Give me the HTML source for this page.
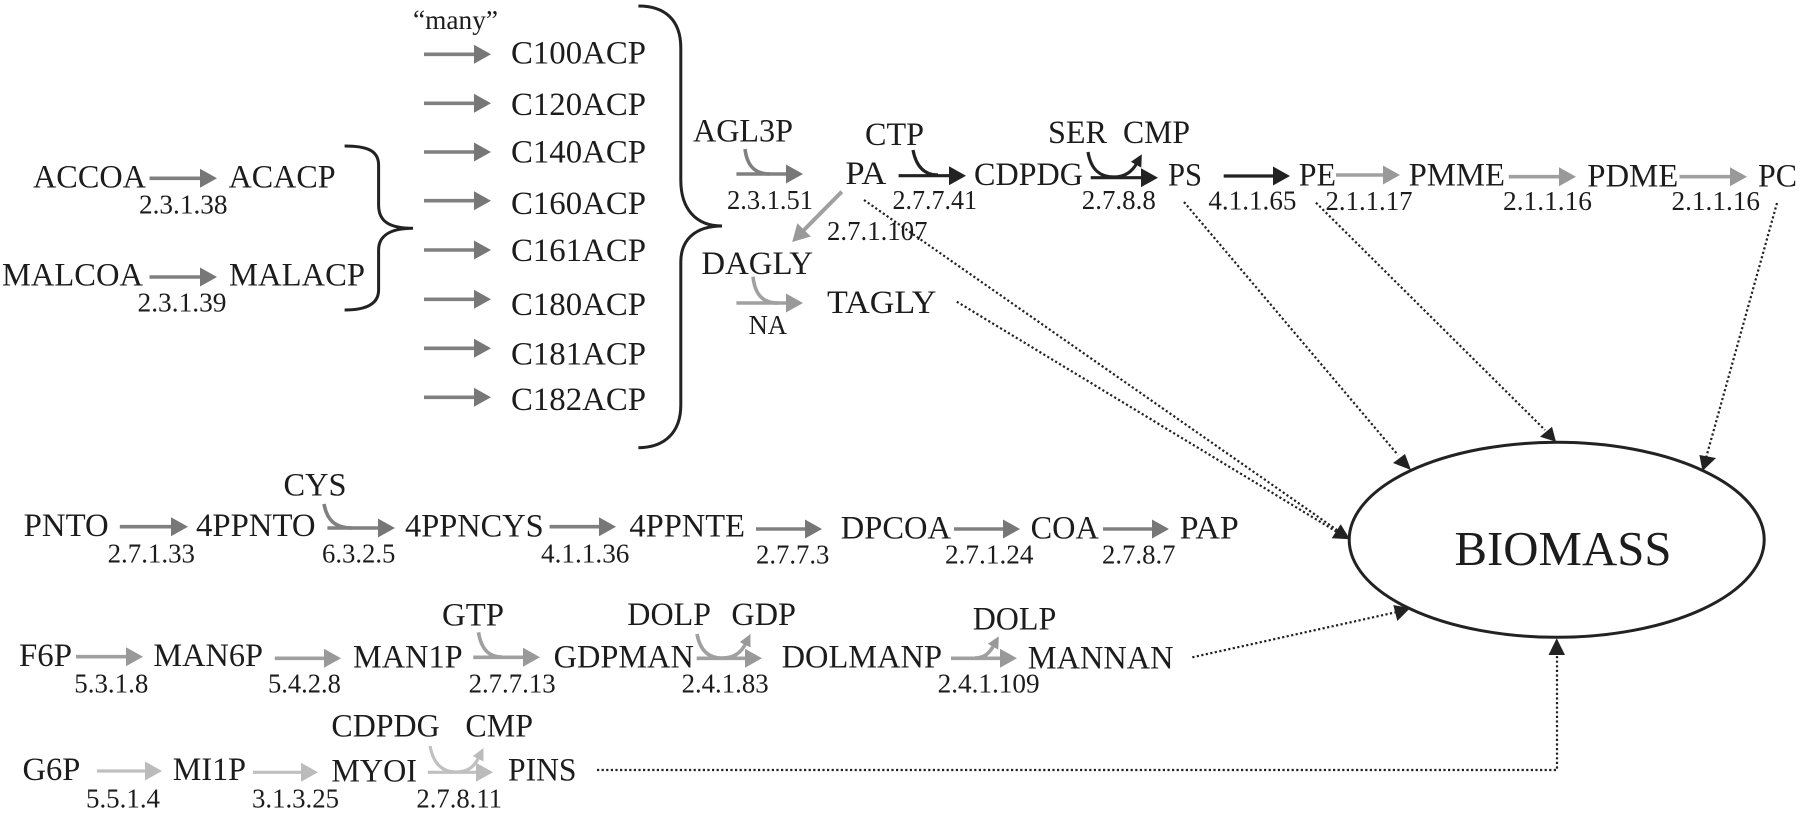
<!DOCTYPE html>
<html><head><meta charset="utf-8">
<style>
html,body{margin:0;padding:0;background:#fff;width:1800px;height:813px;overflow:hidden}
svg{display:block;filter:blur(.35px)}
text{font-family:"Liberation Serif",serif;fill:#1c1c1c}
.l{font-size:32.5px}
.e{font-size:27.5px}
.d,.a,.b,.c,.k,.br{fill:none}
.d{stroke:#222;stroke-width:2.2;stroke-dasharray:2.2 2.4}
.k{stroke:#222;stroke-width:3.2}
.a{stroke:#808080;stroke-width:3.6}
.b{stroke:#a0a0a0;stroke-width:3.6}
.c{stroke:#c0c0c0;stroke-width:3.2}
.br{stroke:#222;stroke-width:3}
</style></head><body>
<svg xmlns="http://www.w3.org/2000/svg" width="1800" height="813" viewBox="0 0 1800 813">
<defs>
<marker id="mk" markerUnits="userSpaceOnUse" markerWidth="18" markerHeight="20" refX="3" refY="10" orient="auto"><path d="M0 0.5L17 10L0 19.5Z" fill="#222"/></marker>
<marker id="ma" markerUnits="userSpaceOnUse" markerWidth="18" markerHeight="20" refX="3" refY="10" orient="auto"><path d="M0 0.5L17 10L0 19.5Z" fill="#777"/></marker>
<marker id="mb" markerUnits="userSpaceOnUse" markerWidth="18" markerHeight="20" refX="3" refY="10" orient="auto"><path d="M0 0.5L17 10L0 19.5Z" fill="#999"/></marker>
<marker id="mc" markerUnits="userSpaceOnUse" markerWidth="18" markerHeight="20" refX="3" refY="10" orient="auto"><path d="M0 0.5L17 10L0 19.5Z" fill="#bbb"/></marker>
<marker id="sk" markerUnits="userSpaceOnUse" markerWidth="14" markerHeight="14" refX="2" refY="7" orient="auto"><path d="M0 1L12 7L0 13Z" fill="#222"/></marker>
<marker id="sb" markerUnits="userSpaceOnUse" markerWidth="14" markerHeight="14" refX="2" refY="7" orient="auto"><path d="M0 1L12 7L0 13Z" fill="#999"/></marker>
<marker id="sc" markerUnits="userSpaceOnUse" markerWidth="14" markerHeight="14" refX="2" refY="7" orient="auto"><path d="M0 1L12 7L0 13Z" fill="#bbb"/></marker>
</defs>

<!-- braces -->
<path class="br" d="M344.6 146C366 146 378.6 150 378.6 165V205C378.6 222 390 228.3 413 228.3C390 228.3 378.6 236 378.6 250V290C378.6 304 366 310 344.6 310"/>
<path class="br" d="M638.4 6C665 6 680.8 20 680.8 48V180C680.8 208 695 226 722 226C695 226 680.8 240 680.8 262V405C680.8 432 665 447.7 638.4 447.7"/>

<!-- ACP arrows -->
<path class="a" d="M424 54.3H477" marker-end="url(#ma)"/>
<path class="a" d="M424 103.3H477" marker-end="url(#ma)"/>
<path class="a" d="M424 152H477" marker-end="url(#ma)"/>
<path class="a" d="M424 200.7H477" marker-end="url(#ma)"/>
<path class="a" d="M424 250H477" marker-end="url(#ma)"/>
<path class="a" d="M424 299.3H477" marker-end="url(#ma)"/>
<path class="a" d="M424 348.3H477" marker-end="url(#ma)"/>
<path class="a" d="M424 397.3H477" marker-end="url(#ma)"/>
<path class="a" d="M149.5 178.3H203" marker-end="url(#ma)"/>
<path class="a" d="M149.5 277H203" marker-end="url(#ma)"/>

<!-- lipid arrows -->
<path class="a" d="M736.4 174H789" marker-end="url(#ma)"/>
<path class="a" d="M745 149C747 166 755 174 770 174"/>
<path class="k" d="M898.6 175.7H952" marker-end="url(#mk)"/>
<path class="k" d="M913 150C916 166 924 175 938 175"/>
<path class="k" d="M1090.7 177.7H1144" marker-end="url(#mk)"/>
<path class="k" d="M1088 152C1091 170 1100 177 1114 177C1125 177 1132 172 1137 163" marker-end="url(#sk)"/>
<path class="k" d="M1223.7 176H1276" marker-end="url(#mk)"/>
<path class="b" d="M1336 175H1386" marker-end="url(#mb)"/>
<path class="b" d="M1508.8 176.7H1562" marker-end="url(#mb)"/>
<path class="b" d="M1679.5 176.7H1733" marker-end="url(#mb)"/>
<path class="b" d="M841.8 191.7L802 232" marker-end="url(#mb)" style="stroke-width:4"/>
<path class="b" d="M736.4 303H789" marker-end="url(#mb)"/>
<path class="b" d="M753 276.7C755 294 762 303 778 303"/>

<!-- row 2 -->
<path class="a" d="M119.8 526.7H174" marker-end="url(#ma)"/>
<path class="a" d="M327.4 528H381" marker-end="url(#ma)"/>
<path class="a" d="M324 504C327 520 335 528 352 528"/>
<path class="a" d="M549.6 526.7H602" marker-end="url(#ma)"/>
<path class="a" d="M756 529H808" marker-end="url(#ma)"/>
<path class="a" d="M954 529H1006" marker-end="url(#ma)"/>
<path class="a" d="M1103 529H1155" marker-end="url(#ma)"/>

<!-- row 3 -->
<path class="b" d="M76 656.7H129" marker-end="url(#mb)"/>
<path class="b" d="M274.8 658.3H327" marker-end="url(#mb)"/>
<path class="b" d="M473.3 657.3H526" marker-end="url(#mb)"/>
<path class="b" d="M478.5 632.3C481 648 488 657 502 657"/>
<path class="b" d="M696.7 658.3H748" marker-end="url(#mb)"/>
<path class="b" d="M697 634C700 650 708 658 722 658C734 658 741 653 746 643" marker-end="url(#sb)"/>
<path class="b" d="M951 658.3H1003" marker-end="url(#mb)"/>
<path class="b" d="M975 658C984 658 989 654 994 645" marker-end="url(#sb)"/>

<!-- row 4 -->
<path class="c" d="M96.9 771H148" marker-end="url(#mc)"/>
<path class="c" d="M253 772.3H304" marker-end="url(#mc)"/>
<path class="c" d="M427.8 772.3H479" marker-end="url(#mc)"/>
<path class="c" d="M430 746C433 762 441 772 456 772C468 772 474 767 479 757" marker-end="url(#sc)"/>

<!-- dotted -->
<path class="d" d="M864 200L1337 530"/>
<path class="d" d="M956.8 301.7L1337 532"/>
<path class="d" d="M1184 202L1398 455"/>
<path class="d" d="M1316 202.7L1545 430"/>
<path class="d" d="M1777 203L1706 458"/>
<path class="d" d="M1192.3 657.3L1397 612"/>
<path class="d" d="M597 770H1557V654"/>
<polygon points="1350,539.3 1331.7,538.3 1340.7,524.3" fill="#222"/>
<polygon points="1411,470 1393,463 1405,454" fill="#222"/>
<polygon points="1556,441.7 1540,436.7 1552,426.7" fill="#222"/>
<polygon points="1702.5,471 1699.4,455 1716,458" fill="#222"/>
<polygon points="1410,608.3 1393.3,605 1397.3,621" fill="#222"/>
<polygon points="1556.7,638.3 1548.5,655 1565,655" fill="#222"/>

<ellipse cx="1556.7" cy="539.8" rx="207.5" ry="97.5" fill="none" stroke="#222" stroke-width="3"/>
<text x="1454.5" y="565" font-size="48.8" textLength="217" lengthAdjust="spacingAndGlyphs">BIOMASS</text>

<!-- labels -->
<text class="e" x="413" y="29" textLength="85" lengthAdjust="spacingAndGlyphs">“many”</text>
<text class="l" x="511" y="63.3" textLength="135" lengthAdjust="spacingAndGlyphs">C100ACP</text>
<text class="l" x="511" y="115" textLength="135" lengthAdjust="spacingAndGlyphs">C120ACP</text>
<text class="l" x="511" y="162.3" textLength="135" lengthAdjust="spacingAndGlyphs">C140ACP</text>
<text class="l" x="511" y="214" textLength="135" lengthAdjust="spacingAndGlyphs">C160ACP</text>
<text class="l" x="511" y="261" textLength="135" lengthAdjust="spacingAndGlyphs">C161ACP</text>
<text class="l" x="511" y="315" textLength="135" lengthAdjust="spacingAndGlyphs">C180ACP</text>
<text class="l" x="511" y="364.3" textLength="135" lengthAdjust="spacingAndGlyphs">C181ACP</text>
<text class="l" x="511" y="410" textLength="135" lengthAdjust="spacingAndGlyphs">C182ACP</text>
<text class="l" x="33" y="187.7" textLength="113" lengthAdjust="spacingAndGlyphs">ACCOA</text>
<text class="l" x="228.6" y="187.7" textLength="107" lengthAdjust="spacingAndGlyphs">ACACP</text>
<text class="e" x="139" y="213.3" textLength="88.5" lengthAdjust="spacingAndGlyphs">2.3.1.38</text>
<text class="l" x="2" y="285.7" textLength="141" lengthAdjust="spacingAndGlyphs">MALCOA</text>
<text class="l" x="229" y="285.7" textLength="136" lengthAdjust="spacingAndGlyphs">MALACP</text>
<text class="e" x="137.5" y="311.7" textLength="89" lengthAdjust="spacingAndGlyphs">2.3.1.39</text>

<text class="l" x="693" y="141.7" textLength="100" lengthAdjust="spacingAndGlyphs">AGL3P</text>
<text class="l" x="845.4" y="184" textLength="41" lengthAdjust="spacingAndGlyphs">PA</text>
<text class="l" x="865" y="145" textLength="59" lengthAdjust="spacingAndGlyphs">CTP</text>
<text class="l" x="974" y="185" textLength="109" lengthAdjust="spacingAndGlyphs">CDPDG</text>
<text class="e" x="727" y="209" textLength="86" lengthAdjust="spacingAndGlyphs">2.3.1.51</text>
<text class="e" x="892.5" y="209" textLength="84.5" lengthAdjust="spacingAndGlyphs">2.7.7.41</text>
<text class="e" x="1081.8" y="209" textLength="74" lengthAdjust="spacingAndGlyphs">2.7.8.8</text>
<text class="l" x="1048" y="143" textLength="59" lengthAdjust="spacingAndGlyphs">SER</text>
<text class="l" x="1123" y="143" textLength="67" lengthAdjust="spacingAndGlyphs">CMP</text>
<text class="l" x="1168" y="185.7" textLength="34" lengthAdjust="spacingAndGlyphs">PS</text>
<text class="e" x="827" y="240" textLength="100.5" lengthAdjust="spacingAndGlyphs">2.7.1.107</text>
<text class="l" x="701.4" y="274" textLength="111.6" lengthAdjust="spacingAndGlyphs">DAGLY</text>
<text class="l" x="827" y="313" textLength="109.4" lengthAdjust="spacingAndGlyphs">TAGLY</text>
<text class="e" x="748.6" y="334" textLength="38.4" lengthAdjust="spacingAndGlyphs">NA</text>
<text class="e" x="1208.4" y="209.3" textLength="88" lengthAdjust="spacingAndGlyphs">4.1.1.65</text>
<text class="l" x="1298.7" y="185.7" textLength="37.3" lengthAdjust="spacingAndGlyphs">PE</text>
<text class="l" x="1408.6" y="185.7" textLength="96.4" lengthAdjust="spacingAndGlyphs">PMME</text>
<text class="l" x="1587.3" y="186.7" textLength="91" lengthAdjust="spacingAndGlyphs">PDME</text>
<text class="l" x="1758" y="186.7" textLength="39" lengthAdjust="spacingAndGlyphs">PC</text>
<text class="e" x="1325.5" y="210" textLength="87" lengthAdjust="spacingAndGlyphs">2.1.1.17</text>
<text class="e" x="1503" y="210" textLength="89" lengthAdjust="spacingAndGlyphs">2.1.1.16</text>
<text class="e" x="1671.5" y="210" textLength="88.5" lengthAdjust="spacingAndGlyphs">2.1.1.16</text>

<text class="l" x="283.5" y="495.7" textLength="63" lengthAdjust="spacingAndGlyphs">CYS</text>
<text class="l" x="23.7" y="536" textLength="85" lengthAdjust="spacingAndGlyphs">PNTO</text>
<text class="l" x="196" y="536" textLength="119.5" lengthAdjust="spacingAndGlyphs">4PPNTO</text>
<text class="l" x="405" y="536.7" textLength="138.7" lengthAdjust="spacingAndGlyphs">4PPNCYS</text>
<text class="l" x="629.4" y="536.7" textLength="115.6" lengthAdjust="spacingAndGlyphs">4PPNTE</text>
<text class="l" x="840.8" y="538.3" textLength="110.2" lengthAdjust="spacingAndGlyphs">DPCOA</text>
<text class="l" x="1030.6" y="538.3" textLength="68.2" lengthAdjust="spacingAndGlyphs">COA</text>
<text class="l" x="1179.6" y="538.3" textLength="59.2" lengthAdjust="spacingAndGlyphs">PAP</text>
<text class="e" x="107.6" y="562.3" textLength="87.4" lengthAdjust="spacingAndGlyphs">2.7.1.33</text>
<text class="e" x="322" y="562.3" textLength="73.4" lengthAdjust="spacingAndGlyphs">6.3.2.5</text>
<text class="e" x="541" y="562.3" textLength="88.4" lengthAdjust="spacingAndGlyphs">4.1.1.36</text>
<text class="e" x="756" y="563.3" textLength="73.4" lengthAdjust="spacingAndGlyphs">2.7.7.3</text>
<text class="e" x="945" y="563.3" textLength="88.5" lengthAdjust="spacingAndGlyphs">2.7.1.24</text>
<text class="e" x="1102" y="563.3" textLength="73.5" lengthAdjust="spacingAndGlyphs">2.7.8.7</text>

<text class="l" x="442" y="625.7" textLength="62" lengthAdjust="spacingAndGlyphs">GTP</text>
<text class="l" x="19" y="666" textLength="53" lengthAdjust="spacingAndGlyphs">F6P</text>
<text class="l" x="153.4" y="666" textLength="109.6" lengthAdjust="spacingAndGlyphs">MAN6P</text>
<text class="l" x="353" y="667.3" textLength="109.6" lengthAdjust="spacingAndGlyphs">MAN1P</text>
<text class="l" x="553.6" y="667.3" textLength="140.3" lengthAdjust="spacingAndGlyphs">GDPMAN</text>
<text class="e" x="74.3" y="692.7" textLength="74" lengthAdjust="spacingAndGlyphs">5.3.1.8</text>
<text class="e" x="268" y="692.7" textLength="72.8" lengthAdjust="spacingAndGlyphs">5.4.2.8</text>
<text class="e" x="468.6" y="692.7" textLength="87" lengthAdjust="spacingAndGlyphs">2.7.7.13</text>
<text class="l" x="627.3" y="625" textLength="83.7" lengthAdjust="spacingAndGlyphs">DOLP</text>
<text class="l" x="731.4" y="625" textLength="64.6" lengthAdjust="spacingAndGlyphs">GDP</text>
<text class="l" x="781.6" y="667.3" textLength="160.4" lengthAdjust="spacingAndGlyphs">DOLMANP</text>
<text class="l" x="972.7" y="629.3" textLength="83.6" lengthAdjust="spacingAndGlyphs">DOLP</text>
<text class="l" x="1027.8" y="668.3" textLength="145.7" lengthAdjust="spacingAndGlyphs">MANNAN</text>
<text class="e" x="681.6" y="692.7" textLength="87" lengthAdjust="spacingAndGlyphs">2.4.1.83</text>
<text class="e" x="937.6" y="692.7" textLength="102" lengthAdjust="spacingAndGlyphs">2.4.1.109</text>

<text class="l" x="331.4" y="736.7" textLength="108.3" lengthAdjust="spacingAndGlyphs">CDPDG</text>
<text class="l" x="465.4" y="736.7" textLength="67.6" lengthAdjust="spacingAndGlyphs">CMP</text>
<text class="l" x="22.5" y="780" textLength="57.8" lengthAdjust="spacingAndGlyphs">G6P</text>
<text class="l" x="172.8" y="780" textLength="73.2" lengthAdjust="spacingAndGlyphs">MI1P</text>
<text class="l" x="331.4" y="781.7" textLength="85.6" lengthAdjust="spacingAndGlyphs">MYOI</text>
<text class="l" x="508" y="780.7" textLength="68.5" lengthAdjust="spacingAndGlyphs">PINS</text>
<text class="e" x="86" y="807.7" textLength="74" lengthAdjust="spacingAndGlyphs">5.5.1.4</text>
<text class="e" x="252" y="807.7" textLength="87" lengthAdjust="spacingAndGlyphs">3.1.3.25</text>
<text class="e" x="416.4" y="807.7" textLength="85.6" lengthAdjust="spacingAndGlyphs">2.7.8.11</text>
</svg>
</body></html>
